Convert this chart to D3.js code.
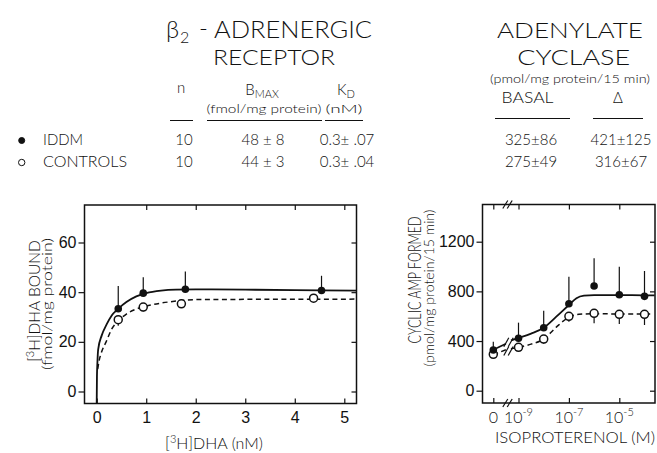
<!DOCTYPE html>
<html><head><meta charset="utf-8">
<script src="https://cdn.jsdelivr.net/npm/d3@7"></script>
<style>
html,body{margin:0;padding:0;background:#fff;}
svg{display:block;font-family:Lato,"Liberation Sans",Arial,sans-serif;font-weight:300;}
</style></head>
<body><svg id="c" width="657" height="453"></svg>
<script>
// ---------- data ----------
// Left: [3H]DHA binding
const dhaConc      = [0.435, 0.94, 1.79, 4.54];
const iddmBound    = [33.3, 39.6, 41.2, 40.7];
const iddmBoundHi  = [42.5, 46.0, 48.3, 46.6];
const ctrlConc     = [0.435, 0.94, 1.71, 4.38];
const ctrlBound    = [28.9, 34.0, 35.3, 37.6];
const ctrlBoundLo  = [26.5, 32.2, 33.6, 36.5];
const iddmBindCurve = [[0,-4.7],[0.005,6],[0.015,12],[0.03,17],[0.1,22.5],[0.2,27],[0.3,30.5],[0.435,33.3],[0.6,36],[0.8,38.3],[1.0,39.6],[1.3,40.6],[1.6,41],[2,41.1],[3,41],[4,40.8],[5.25,40.6]];
const ctrlBindCurve = [[0.02,9],[0.05,12.5],[0.1,16],[0.19,20],[0.3,25],[0.435,28.5],[0.6,31.2],[0.8,33.2],[1.0,34.4],[1.3,35.6],[1.6,36.4],[2,37],[3,37.1],[5.25,37.2]];
const dhaTicks   = [0,1,2,3,4,5];
const boundTicks = [0,20,40,60];

// Right: adenylate cyclase (x = log10 M; "0" drawn at -10)
const isoExp      = [-10,-9,-8,-7,-6,-5,-4];
const iddmCamp    = [328, 422, 507, 700, 843, 773, 760];
const iddmCampHi  = [395, 548, 644, 918, 1066, 998, 964];
const ctrlCamp    = [293, 349, 416, 599, 623, 615, 615];
const ctrlCampLo  = [285, 330, 378, 556, 543, 537, 529];
const iddmCampCurveA = [[-10,330],[-9.5,378]];
const iddmCampCurveB = [[-9.3,405],[-9,425],[-8.5,460],[-8,507],[-7.5,596],[-7,690],[-6.7,745],[-6.4,765],[-6,770],[-5,770],[-4,768],[-3.6,768]];
const ctrlCampCurveA = [[-10,290],[-9.5,330]];
const ctrlCampCurveB = [[-9.3,338],[-9,350],[-8.5,375],[-8,416],[-7.5,512],[-7,592],[-6.6,615],[-6,620],[-5,618],[-4,618],[-3.7,618]];
const isoTickVals   = [-10,-9,-7,-5];
const isoTickLabels = ["0","10|-9","10|-7","10|-5"];
const campTicks = [0,400,800,1200];

// Table
const groups   = ["IDDM","CONTROLS"];
const nVals    = ["10","10"];
const bmaxVals = ["48 ± 8","44 ± 3"];
const kdVals   = ["0.3± .07","0.3± .04"];
const basalVals= ["325±86","275±49"];
const deltaVals= ["421±125","316±67"];

// ---------- drawing ----------
const svg = d3.select("#c");
const INK = "#111";

function txt(x,y,s,size,anchor,len){
  const t = svg.append("text").attr("x",x).attr("y",y).attr("font-size",size)
    .attr("text-anchor",anchor||"start").attr("fill",INK).text(s);
  if(len) t.attr("textLength",len).attr("lengthAdjust","spacingAndGlyphs");
  return t;
}

// Titles
txt(166,38,"β",24,"start");
txt(180,43,"2",16,"start");
txt(199,37,"-",24,"start");
txt(214,38,"ADRENERGIC",24,"start",158);
txt(274,65,"RECEPTOR",22,"middle",122);
txt(570,38,"ADENYLATE",22,"middle",146);
txt(573.7,65,"CYCLASE",22,"middle",113);

// table headers
txt(181,93,"n",15,"middle");
const bm = svg.append("text").attr("x",262).attr("y",95).attr("font-size",15).attr("text-anchor","middle").attr("fill",INK);
bm.append("tspan").text("B");
bm.append("tspan").attr("font-size",11).attr("dy",3).text("MAX");
const kd = svg.append("text").attr("x",346).attr("y",95).attr("font-size",15).attr("text-anchor","middle").attr("fill",INK);
kd.append("tspan").text("K");
kd.append("tspan").attr("font-size",11).attr("dy",3).text("D");
txt(264,113,"(fmol/mg protein)",12.5,"middle",115);
txt(344,113,"(nM)",12.5,"middle",37);
txt(570,82.5,"(pmol/mg protein/15 min)",12,"middle",160);
txt(527.5,102.5,"BASAL",15,"middle",52);
txt(618,102.5,"Δ",15,"middle");
const ul = [[170,193,120.5],[207,322,120.5],[325,363,120.5],[495,570,118.5],[593,643,118.5]];
ul.forEach(d=>svg.append("line").attr("x1",d[0]).attr("x2",d[1]).attr("y1",d[2]).attr("y2",d[2]).attr("stroke",INK).attr("stroke-width",1));

const rowY = [145,167];
groups.forEach((g,i)=>{
  svg.append("circle").attr("cx",21.7).attr("cy",rowY[i]-4.5).attr("r",i===0?3:3.2)
    .attr("fill",i===0?INK:"#fff").attr("stroke",INK).attr("stroke-width",1);
  txt(43,rowY[i],g,15,"start",i===0?40:84);
  txt(184,rowY[i],nVals[i],15,"middle");
  txt(263,rowY[i],bmaxVals[i],15,"middle");
  txt(347,rowY[i],kdVals[i],15,"middle");
  txt(531,rowY[i],basalVals[i],15,"middle");
  txt(621,rowY[i],deltaVals[i],15,"middle");
});

// ---------- left chart ----------
const L = {x0:84.5, x1:356.5, y0:205, y1:403.5};
const xL = d3.scaleLinear().domain([0,5]).range([96.7,344.3]);
const yL = d3.scaleLinear().domain([0,60]).range([391.5,242.5]);
const gL = svg.append("g");

function styleAxis(g,size){
  g.select(".domain").remove();
  g.selectAll("line").attr("stroke",INK).attr("stroke-width",1.2);
  g.selectAll("text").attr("font-family",null).attr("font-size",size).attr("fill",INK);
}
gL.append("g").attr("transform",`translate(${L.x0},0)`)
  .call(d3.axisLeft(yL).tickValues(boundTicks).tickSize(6).tickPadding(2).tickFormat(d3.format("d")))
  .call(g=>styleAxis(g,16));
gL.append("g").attr("transform",`translate(${L.x1},0)`)
  .call(d3.axisRight(yL).tickValues(boundTicks).tickSize(-5).tickFormat(""))
  .call(g=>styleAxis(g,16));
gL.append("g").attr("transform",`translate(0,${L.y1})`)
  .call(d3.axisBottom(xL).tickValues(dhaTicks).tickSize(-5).tickPadding(8).tickFormat(d3.format("d")))
  .call(g=>styleAxis(g,16));
gL.append("g").attr("transform",`translate(0,${L.y0})`)
  .call(d3.axisTop(xL).tickValues(dhaTicks.slice(1)).tickSize(-5).tickFormat(""))
  .call(g=>styleAxis(g,16));
gL.append("rect").attr("x",L.x0).attr("y",L.y0).attr("width",L.x1-L.x0).attr("height",L.y1-L.y0)
  .attr("fill","none").attr("stroke",INK).attr("stroke-width",1.5);

const lineL = d3.line().x(d=>xL(d[0])).y(d=>yL(d[1])).curve(d3.curveMonotoneX);
gL.append("path").attr("d",lineL(iddmBindCurve)).attr("fill","none").attr("stroke",INK).attr("stroke-width",1.8);
gL.append("path").attr("d",lineL(ctrlBindCurve)).attr("fill","none").attr("stroke",INK).attr("stroke-width",1.5).attr("stroke-dasharray","5,3.5");

dhaConc.forEach((c,i)=>{
  gL.append("line").attr("x1",xL(c)).attr("x2",xL(c)).attr("y1",yL(iddmBound[i])).attr("y2",yL(iddmBoundHi[i])).attr("stroke",INK).attr("stroke-width",1.2);
});
ctrlConc.forEach((c,i)=>{
  gL.append("line").attr("x1",xL(c)).attr("x2",xL(c)).attr("y1",yL(ctrlBound[i])).attr("y2",yL(ctrlBoundLo[i])).attr("stroke",INK).attr("stroke-width",1.2);
});
gL.selectAll(".fo").data(dhaConc).enter().append("circle")
  .attr("cx",d=>xL(d)).attr("cy",(d,i)=>yL(iddmBound[i])).attr("r",3.8).attr("fill",INK);
gL.selectAll(".op").data(ctrlConc).enter().append("circle")
  .attr("cx",d=>xL(d)).attr("cy",(d,i)=>yL(ctrlBound[i])).attr("r",4).attr("fill","#fff").attr("stroke",INK).attr("stroke-width",1.5);

// axis labels left
const xlab = svg.append("text").attr("x",214).attr("y",449).attr("font-size",16).attr("text-anchor","middle").attr("fill",INK);
xlab.append("tspan").text("[");
xlab.append("tspan").attr("font-size",11).attr("dy",-6).text("3");
xlab.append("tspan").attr("dy",6).text("H]DHA  (nM)");
const ylab1 = svg.append("text").attr("transform","translate(40,301) rotate(-90)").attr("font-size",15.5).attr("text-anchor","middle").attr("fill",INK);
ylab1.append("tspan").text("[");
ylab1.append("tspan").attr("font-size",11).attr("dy",-6).text("3");
ylab1.append("tspan").attr("dy",6).text("H]DHA BOUND");
svg.append("text").attr("transform","translate(52,304) rotate(-90)").attr("font-size",13.5).attr("text-anchor","middle").attr("fill",INK)
  .attr("textLength",132).attr("lengthAdjust","spacingAndGlyphs").text("(fmol/mg protein)");

// ---------- right chart ----------
const R = {x0:482.5, x1:655, y0:204.5, y1:403};
const xR = d3.scaleLinear().domain([-10,-4]).range([493.3,644.5]);
const yR = d3.scaleLinear().domain([0,1200]).range([390.7,241.7]);
const gR = svg.append("g");
gR.append("g").attr("transform",`translate(${R.x0},0)`)
  .call(d3.axisLeft(yR).tickValues(campTicks).tickSize(6).tickPadding(2).tickFormat(d3.format("d")))
  .call(g=>styleAxis(g,16));
gR.append("g").attr("transform",`translate(${R.x1},0)`)
  .call(d3.axisRight(yR).tickValues(campTicks).tickSize(-5).tickFormat(""))
  .call(g=>styleAxis(g,16));
gR.append("g").attr("transform",`translate(0,${R.y1})`)
  .call(d3.axisBottom(xR).tickValues(isoTickVals).tickSize(-5).tickPadding(8).tickFormat(""))
  .call(g=>styleAxis(g,16));
gR.append("g").attr("transform",`translate(0,${R.y0})`)
  .call(d3.axisTop(xR).tickValues(isoTickVals).tickSize(-5).tickFormat(""))
  .call(g=>styleAxis(g,16));
gR.append("rect").attr("x",R.x0).attr("y",R.y0).attr("width",R.x1-R.x0).attr("height",R.y1-R.y0)
  .attr("fill","none").attr("stroke",INK).attr("stroke-width",1.5);
// tick labels with superscripts
isoTickVals.forEach((v,i)=>{
  const parts = isoTickLabels[i].split("|");
  const t = gR.append("text").attr("x",xR(v)).attr("y",423).attr("font-size",16).attr("text-anchor","middle").attr("fill",INK);
  t.append("tspan").text(parts[0]);
  if(parts[1]) t.append("tspan").attr("font-size",11).attr("dy",-7).text(parts[1]);
});
// axis breaks
function slashes(cx,cy,h){
  [-2.2,2.2].forEach(o=>{
    gR.append("line").attr("x1",cx+o-2.5).attr("y1",cy+h/2).attr("x2",cx+o+2.5).attr("y2",cy-h/2)
      .attr("stroke",INK).attr("stroke-width",1.2);
  });
}
slashes(507.5,R.y0,8);
slashes(507.5,R.y1,8);

const lineR = d3.line().x(d=>xR(d[0])).y(d=>yR(d[1])).curve(d3.curveMonotoneX);
[iddmCampCurveA,iddmCampCurveB].forEach(c=>gR.append("path").attr("d",lineR(c)).attr("fill","none").attr("stroke",INK).attr("stroke-width",1.8));
[ctrlCampCurveA,ctrlCampCurveB].forEach(c=>gR.append("path").attr("d",lineR(c)).attr("fill","none").attr("stroke",INK).attr("stroke-width",1.5).attr("stroke-dasharray","5,3.5"));
// curve break marks
slashes(508.5,yR(390),9);
slashes(508.5,yR(320),9);

isoExp.forEach((e,i)=>{
  gR.append("line").attr("x1",xR(e)).attr("x2",xR(e)).attr("y1",yR(iddmCamp[i])).attr("y2",yR(iddmCampHi[i])).attr("stroke",INK).attr("stroke-width",1.2);
  gR.append("line").attr("x1",xR(e)).attr("x2",xR(e)).attr("y1",yR(ctrlCamp[i])).attr("y2",yR(ctrlCampLo[i])).attr("stroke",INK).attr("stroke-width",1.2);
});
gR.selectAll(".op").data(isoExp).enter().append("circle")
  .attr("cx",d=>xR(d)).attr("cy",(d,i)=>yR(ctrlCamp[i])).attr("r",4).attr("fill","#fff").attr("stroke",INK).attr("stroke-width",1.5);
gR.selectAll(".fo").data(isoExp).enter().append("circle")
  .attr("cx",d=>xR(d)).attr("cy",(d,i)=>yR(iddmCamp[i])).attr("r",3.8).attr("fill",INK);

txt(575,443,"ISOPROTERENOL  (M)",16,"middle",160);
svg.append("text").attr("transform","translate(421,280) rotate(-90)").attr("font-size",17).attr("text-anchor","middle").attr("fill",INK)
  .attr("textLength",127).attr("lengthAdjust","spacingAndGlyphs").text("CYCLIC AMP FORMED");
svg.append("text").attr("transform","translate(434,288) rotate(-90)").attr("font-size",13.5).attr("text-anchor","middle").attr("fill",INK)
  .attr("textLength",157).attr("lengthAdjust","spacingAndGlyphs").text("(pmol/mg protein/15 min)");
</script></body></html>
